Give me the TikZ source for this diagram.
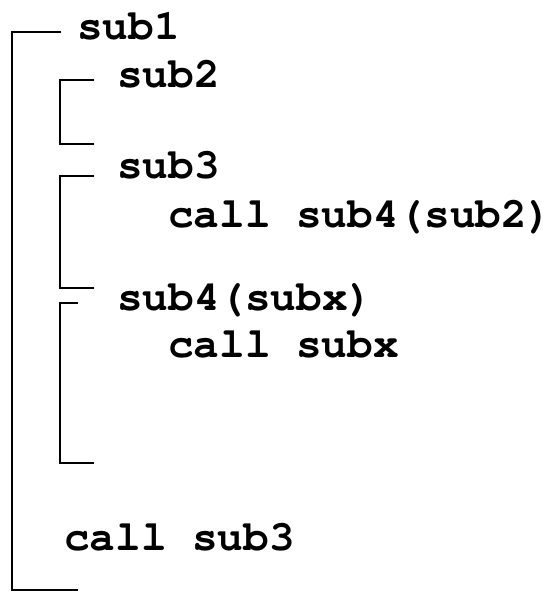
\documentclass[tikz,border=0pt]{standalone}
\usepackage[T1]{fontenc}
\usepackage{courier}
\begin{document}
\begin{tikzpicture}[x=1pt,y=-1pt,
  code/.style={anchor=base west,inner sep=0pt,font=\ttfamily\bfseries\fontsize{42.7}{50}\selectfont},
  brk/.style={line width=2pt,line cap=butt}]
\useasboundingbox (0,0) rectangle (551,591);
% text
\node[code] (t1) at (77,40) {sub1};
\node[code] (t2) at (117,88) {sub2};
\node[code] (t3) at (117,178) {sub3};
\node[code] (t4) at (168,227) {call sub4(sub2)};
\node[code] (t5) at (117,310) {sub4(subx)};
\node[code] (t6) at (168,357) {call subx};
\node[code] (t7) at (64,550) {call sub3};
% brackets
\draw[brk] (61,32) -- (12,32) -- (12,590) -- (78,590);
\draw[brk] (94,80) -- (60,80) -- (60,144) -- (94,144);
\draw[brk] (94,176) -- (60,176) -- (60,288) -- (94,288);
\draw[brk] (78,303) -- (60,303) -- (60,463) -- (94,463);
\end{tikzpicture}
\end{document}
